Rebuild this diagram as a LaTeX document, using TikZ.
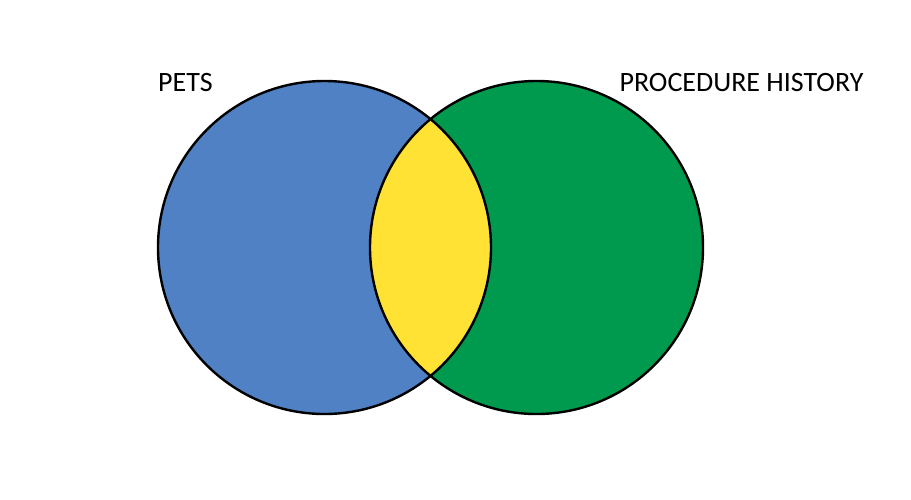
\documentclass[tikz,border=0pt]{standalone}
\usepackage{fontspec}
\setmainfont{Carlito}
\definecolor{petsblue}{RGB}{79,129,196}
\definecolor{histgreen}{RGB}{0,154,78}
\definecolor{bothyellow}{RGB}{255,226,51}
\tikzset{
  venn/.style={line width=2.4pt,draw=black},
  setlabel/.style={anchor=base,font=\fontsize{28}{30}\selectfont,inner sep=0pt}
}
\begin{document}
\begin{tikzpicture}[x=1pt,y=-1pt]
\useasboundingbox (0,0) rectangle (911,499);
\coordinate(pets) at (324.5,247.5);
\coordinate(hist) at (536.5,247.5);
\fill[petsblue]  (pets) circle (166.5);
\fill[histgreen] (hist) circle (166.5);
\begin{scope}
  \clip (pets) circle (166.5);
  \fill[bothyellow] (hist) circle (166.5);
\end{scope}
\draw[venn] (pets) circle (166.5);
\draw[venn] (hist) circle (166.5);
\node(petslabel) at (185.5,91)[setlabel]{PETS};
\node(histlabel) at (741.5,91)[setlabel]{PROCEDURE HISTORY};
\end{tikzpicture}
\end{document}
